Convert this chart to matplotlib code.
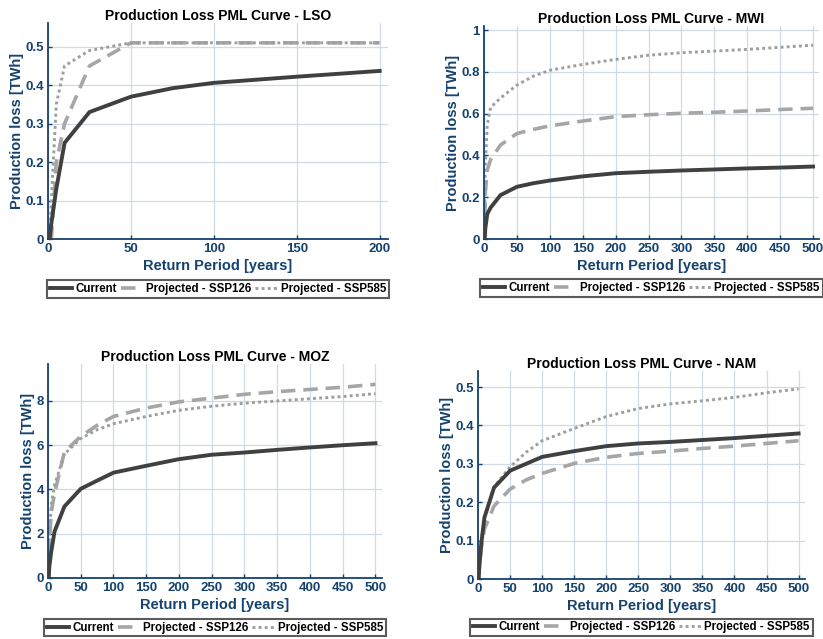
import numpy as np
import matplotlib
matplotlib.use("Agg")
import matplotlib.pyplot as plt
from matplotlib.ticker import FuncFormatter

plt.rcParams['font.family'] = ['Liberation Sans', 'DejaVu Sans']

# return periods [years]
rp_lso = [1, 2, 5, 10, 25, 50, 75, 100, 150, 200]
rp_long = [1, 2, 5, 10, 25, 50, 75, 100, 150, 200, 250, 300, 350, 400, 450, 500]

# production loss [TWh]
lso_current = [0, 0.04, 0.13, 0.25, 0.33, 0.37, 0.392, 0.406, 0.422, 0.437]
lso_ssp126 = [0, 0.0, 0.2, 0.3, 0.45, 0.51, 0.51, 0.51, 0.51, 0.51]
lso_ssp585 = [0, 0.1, 0.35, 0.45, 0.49, 0.51, 0.51, 0.51, 0.51, 0.51]

mwi_current = [0, 0.05, 0.12, 0.15, 0.21, 0.25, 0.267, 0.28, 0.30, 0.315, 0.322, 0.328, 0.333, 0.338, 0.342, 0.347]
mwi_ssp126 = [0, 0.22, 0.33, 0.38, 0.45, 0.505, 0.525, 0.542, 0.565, 0.586, 0.595, 0.602, 0.607, 0.613, 0.62, 0.626]
mwi_ssp585 = [0, 0.35, 0.55, 0.63, 0.675, 0.737, 0.78, 0.808, 0.836, 0.86, 0.88, 0.892, 0.90, 0.908, 0.918, 0.928]

moz_current = [0, 0.5, 1.2, 2.1, 3.23, 4.03, 4.4, 4.76, 5.07, 5.37, 5.57, 5.67, 5.79, 5.9, 6.0, 6.09]
moz_ssp126 = [0, 1.5, 3.0, 3.8, 5.7, 6.4, 6.9, 7.3, 7.68, 7.96, 8.13, 8.3, 8.42, 8.52, 8.62, 8.75]
moz_ssp585 = [0, 1.8, 3.3, 4.2, 5.6, 6.3, 6.7, 6.97, 7.3, 7.58, 7.76, 7.9, 8.0, 8.1, 8.2, 8.33]

nam_current = [0, 0.03, 0.09, 0.16, 0.238, 0.282, 0.30, 0.318, 0.333, 0.346, 0.353, 0.357, 0.362, 0.367, 0.373, 0.379]
nam_ssp126 = [0, 0.03, 0.08, 0.13, 0.19, 0.234, 0.258, 0.275, 0.301, 0.317, 0.327, 0.333, 0.34, 0.346, 0.353, 0.36]
nam_ssp585 = [0, 0.03, 0.1, 0.16, 0.24, 0.292, 0.33, 0.36, 0.392, 0.423, 0.444, 0.456, 0.464, 0.473, 0.485, 0.495]

labels = ['Current', 'Projected - SSP126', 'Projected - SSP585']

AXIS_BLUE = '#15426e'
GRID = '#cfdae5'
DARK = '#404040'
LIGHT = '#a6a6a6'
DOTS = '#9e9e9e'


def fmt(v, pos):
    return '%g' % round(v, 3)


def pml_panel(fig, rect, name, rp, cur, s126, s585, xmax, xticks, ymax, yticks):
    ax = fig.add_axes(rect)
    ax.plot(rp, cur, color=DARK, lw=2.8, solid_joinstyle='miter', label=labels[0], zorder=3)
    ax.plot(rp, s126, color=LIGHT, lw=2.6, dashes=(4, 2.2), label=labels[1], zorder=2)
    ax.plot(rp, s585, color=DOTS, lw=2.1, dashes=(1.0, 1.1), label=labels[2], zorder=2)
    ax.set_xlim(0, xmax)
    ax.set_ylim(0, ymax)
    ax.set_xticks(xticks)
    ax.set_yticks(yticks)
    ax.xaxis.set_major_formatter(FuncFormatter(fmt))
    ax.yaxis.set_major_formatter(FuncFormatter(fmt))
    ax.grid(True, color=GRID, lw=0.9)
    ax.set_axisbelow(True)
    for s in ['top', 'right']:
        ax.spines[s].set_visible(False)
    for s in ['left', 'bottom']:
        ax.spines[s].set_color(AXIS_BLUE)
        ax.spines[s].set_linewidth(1.3)
    ax.tick_params(direction='in', length=3, width=1, colors=AXIS_BLUE,
                   labelsize=9.5, pad=3)
    for t in ax.get_xticklabels() + ax.get_yticklabels():
        t.set_fontweight('bold')
    ax.set_title('Production Loss PML Curve - ' + name, fontsize=10,
                 fontweight='bold', pad=2.5)
    ax.set_xlabel('Return Period [years]', color=AXIS_BLUE, fontsize=10.5,
                  fontweight='bold', labelpad=3)
    ax.set_ylabel('Production loss [TWh]', color=AXIS_BLUE, fontsize=10.5,
                  fontweight='bold', labelpad=1)
    leg = ax.legend(loc='upper center', bbox_to_anchor=(0.5, -0.19), ncol=3,
                    prop={'weight': 'bold', 'size': 8.3},
                    frameon=True, fancybox=False, handlelength=1.9,
                    handletextpad=0.3, columnspacing=0.35, borderpad=0.25,
                    borderaxespad=0)
    leg.get_frame().set_edgecolor('#333333')
    leg.get_frame().set_linewidth(1.5)
    return ax


W, H = 823, 639
fig = plt.figure(figsize=(W / 100, H / 100), dpi=100)


def rect(l, r, t, b):
    return [l / W, 1 - b / H, (r - l) / W, (b - t) / H]


ticks500 = list(range(0, 501, 50))
pml_panel(fig, rect(48, 388, 23, 239), 'LSO', rp_lso, lso_current, lso_ssp126, lso_ssp585,
          205, [0, 50, 100, 150, 200], 0.5616, [0, 0.1, 0.2, 0.3, 0.4, 0.5])
pml_panel(fig, rect(484, 819, 26, 239), 'MWI', rp_long, mwi_current, mwi_ssp126, mwi_ssp585,
          509, ticks500, 1.02, [0, 0.2, 0.4, 0.6, 0.8, 1.0])
pml_panel(fig, rect(48, 382, 364, 578), 'MOZ', rp_long, moz_current, moz_ssp126, moz_ssp585,
          510, ticks500, 9.67, [0, 2, 4, 6, 8])
pml_panel(fig, rect(478, 805, 371, 579), 'NAM', rp_long, nam_current, nam_ssp126, nam_ssp585,
          510, ticks500, 0.5417, [0, 0.1, 0.2, 0.3, 0.4, 0.5])

fig.savefig('out.png', dpi=100)
